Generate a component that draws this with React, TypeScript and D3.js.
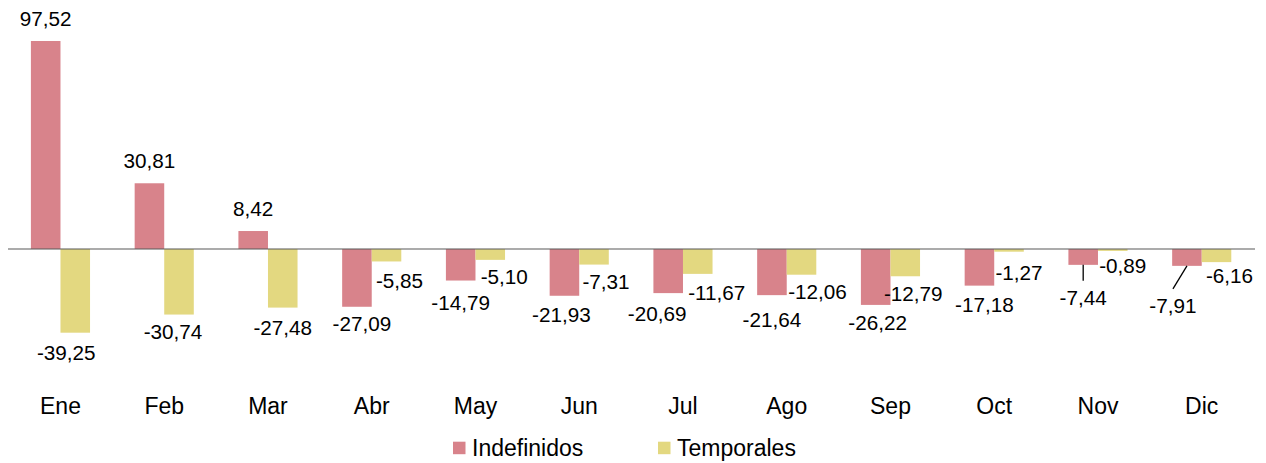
import * as d3 from 'd3'

// Monthly values (Spanish decimal comma in labels)
const months = ['Ene', 'Feb', 'Mar', 'Abr', 'May', 'Jun', 'Jul', 'Ago', 'Sep', 'Oct', 'Nov', 'Dic']
const indefinidos = [97.52, 30.81, 8.42, -27.09, -14.79, -21.93, -20.69, -21.64, -26.22, -17.18, -7.44, -7.91]
const temporales = [-39.25, -30.74, -27.48, -5.85, -5.1, -7.31, -11.67, -12.06, -12.79, -1.27, -0.89, -6.16]
const seriesNames = ['Indefinidos', 'Temporales']
const colors = ['#D8838B', '#E3D880']

// manual label nudges (dx, dy) like the hand-placed labels in the original
const nudgeIndef: [number, number][] = [[0, 0], [0, 0], [0, 0], [5, 0], [0, 5], [-3, 2], [-11, 4], [0, 8], [2, 1], [5, 2], [0, 16], [-14, 23]]
const nudgeTemp: [number, number][] = [[-9, 3], [-6, 0], [0, 3], [13, 3], [14, 0], [12, 0], [19, 2], [16, 0], [8, 1], [10, 4], [10, -2], [13, -3]]

const W = 1266
const H = 463
const FONT = '"Liberation Sans", Arial, sans-serif'

const fmt = (v: number) => v.toFixed(2).replace('.', ',')

export default function App() {
  const x0 = d3.scaleBand<string>()
    .domain(months)
    .range([8.6, 1253.6])
    .paddingInner(0.43)
    .paddingOuter(0.215)

  const x1 = d3.scaleBand<string>()
    .domain(seriesNames)
    .range([0, x0.bandwidth()])

  const y = d3.scaleLinear()
    .domain([-40, 100])
    .range([334.3, 35.7])

  const series = [indefinidos, temporales]
  const nudges = [nudgeIndef, nudgeTemp]

  const bars = months.flatMap((m, i) =>
    series.map((vals, s) => {
      const v = vals[i]
      const bx = (x0(m) ?? 0) + (x1(seriesNames[s]) ?? 0)
      const bw = x1.bandwidth()
      const cx = bx + bw / 2
      const end = y(v)
      const [dx, dy] = nudges[s][i]
      const ly = (v >= 0 ? end - 15 : end + 24) + dy
      const lx = cx + dx
      return { key: `${m}-${s}`, s, v, bx, bw, cx, end, lx, ly, leader: Math.abs(dy) > 12 }
    })
  )

  return (
    <svg width={W} height={H} style={{ position: 'absolute', left: 0, top: 0, background: '#fff' }} fontFamily={FONT}>
      {bars.map(b => (
        <rect
          key={b.key}
          x={b.bx}
          width={b.bw}
          y={Math.min(y(0), b.end)}
          height={Math.abs(b.end - y(0))}
          fill={colors[b.s]}
        />
      ))}

      {/* zero line */}
      <line x1={8} x2={1255} y1={y(0)} y2={y(0)} stroke="#595959" strokeWidth={1.2} />

      {/* leader lines for displaced labels */}
      {bars.filter(b => b.leader).map(b => (
        <line key={'ld' + b.key} x1={b.cx} y1={b.end} x2={b.lx} y2={b.ly - 24} stroke="#000" strokeWidth={1.3} />
      ))}

      {bars.map(b => (
        <text key={'t' + b.key} x={b.lx} y={b.ly} textAnchor="middle" fontSize={20.7} fill="#000">
          {fmt(b.v)}
        </text>
      ))}

      {/* category labels */}
      {months.map(m => (
        <text key={m} x={(x0(m) ?? 0) + x0.bandwidth() / 2} y={414} textAnchor="middle" fontSize={23} fill="#000">
          {m}
        </text>
      ))}

      {/* legend */}
      {seriesNames.map((name, i) => {
        const lx = [453, 658][i]
        return (
          <g key={name}>
            <rect x={lx} y={441.7} width={12.5} height={12.5} fill={colors[i]} />
            <text x={lx + 19} y={456} fontSize={23} fill="#000">{name}</text>
          </g>
        )
      })}
    </svg>
  )
}
